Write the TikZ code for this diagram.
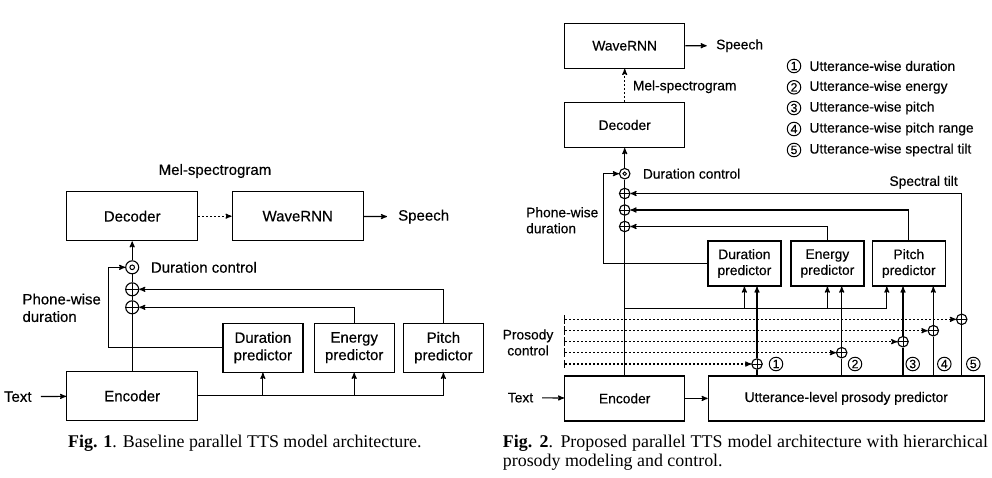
\documentclass[tikz,border=0pt]{standalone}
\usepackage{fontspec}
\setmainfont{Liberation Sans}[FakeBold=0.35]
\newfontfamily\capfont{Liberation Serif}
\usetikzlibrary{calc,arrows}

\begin{document}
\begin{tikzpicture}[x=1pt,y=-1pt]
 \tikzstyle{arrow} = [->,>=stealth',line width=1.15pt];
 \tikzstyle{line} = [line width=1.15pt];
 \tikzstyle{dotarrow} = [->,>=stealth',line width=1.15pt,dash pattern=on 2pt off 2pt];
 \tikzstyle{ctrl} = [|->,>=stealth',line width=1.15pt,dash pattern=on 2pt off 2pt];
 \tikzstyle{box} = [draw,line width=1.3pt,align=center,inner sep=0pt];
 \tikzstyle{boxA} = [box,font=\fontsize{15}{17.5}\selectfont];
 \tikzstyle{boxB} = [box,font=\fontsize{13.8}{16}\selectfont];
 \tikzstyle{bigA} = [boxA,minimum width=131pt,minimum height=49pt];
 \tikzstyle{smallA} = [boxA,minimum width=80pt,minimum height=49pt];
 \tikzstyle{bigB} = [boxB,minimum width=120pt,minimum height=45pt];
 \tikzstyle{smallB} = [boxB,minimum width=73pt,minimum height=45pt];
 \tikzstyle{lblA} = [inner sep=0pt,font=\fontsize{15}{17.5}\selectfont];
 \tikzstyle{lblB} = [inner sep=0pt,font=\fontsize{13.8}{16}\selectfont];
 \tikzstyle{op} = [circle,draw,line width=1.1pt,inner sep=0pt];
 \tikzstyle{oplus} = [op,path picture={\draw[line width=1pt]
   (path picture bounding box.north) -- (path picture bounding box.south)
   (path picture bounding box.west) -- (path picture bounding box.east);}];
 \tikzstyle{odotA} = [op,path picture={\draw[line width=1pt]
   (path picture bounding box.center) circle (2.3pt);}];
 \tikzstyle{odotB} = [op,path picture={\draw[line width=0.9pt]
   (path picture bounding box.center) circle (1.8pt);}];
 \tikzstyle{num} = [circle,draw,line width=1pt,inner sep=0pt,minimum size=13.5pt,
   font=\fontsize{12}{13}\selectfont];
 \tikzstyle{caption} = [inner sep=0pt,font=\capfont\fontsize{17.9}{19.5}\selectfont];

 \useasboundingbox (0,0) rectangle (992,477);

 % Fig. 1
 \node[bigA,name=dec1] at (132.2,216.2) {Decoder};
 \node[bigA,name=wav1] at (297.7,216.2) {WaveRNN};
 \node[bigA,name=enc1] at (132.2,395.9) {Encoder};
 \node[smallA,name=dur1] at (262.9,347.7) {Duration\\predictor};
 \node[smallA,name=eng1] at (354.2,347.7) {Energy\\predictor};
 \node[smallA,name=pit1] at (443.4,347.7) {Pitch\\predictor};
 \node[odotA,name=od1,minimum size=13pt] at (132.2,267.3) {};
 \node[oplus,name=pa1,minimum size=13pt] at (132.2,289.3) {};
 \node[oplus,name=pb1,minimum size=13pt] at (132.2,307.3) {};
 \node[lblA,name=mel1] at (215,171) {Mel-spectrogram};
 \node[lblA,name=sp1,anchor=west] at (398,216.7) {Speech};
 \node[lblA,name=txt1] at (17.8,396.7) {Text};
 \node[lblA,name=dc1,anchor=west] at (150.7,267.3) {Duration control};
 \node[lblA,name=pw1,anchor=west,align=left] at (22.3,307.8) {Phone-wise\\duration};

 \path (txt1) edge [arrow,shorten <=9pt] (enc1);
 \path (enc1) edge [line] (pb1);
 \path (pb1) edge [line] (pa1);
 \path (pa1) edge [line] (od1);
 \path (od1) edge [arrow] (dec1);
 \path (dec1) edge [dotarrow] (wav1);
 \path (wav1) edge [arrow,shorten >=11pt] (sp1);
 \draw[arrow] (enc1.east) -| (pit1.south);
 \draw[arrow] (dur1.south |- enc1.east) -- (dur1.south);
 \draw[arrow] (eng1.south |- enc1.east) -- (eng1.south);
 \draw[arrow] (dur1.west) -- ++(-114,0) |- (od1);
 \draw[arrow] (eng1.north) |- (pb1);
 \draw[arrow] (pit1.north) |- (pa1);

 % Fig. 2
 \node[bigB,name=wav2] at (624.7,45.8) {WaveRNN};
 \node[bigB,name=dec2] at (624.7,125) {Decoder};
 \node[bigB,name=enc2] at (624.7,398.4) {Encoder};
 \node[boxB,name=upp,minimum width=276pt,minimum height=45pt] at (846.3,398.4)
   {Utterance-level prosody predictor};
 \node[smallB,name=dur2] at (744.4,263.5) {Duration\\predictor};
 \node[smallB,name=eng2] at (827.4,263.5) {Energy\\predictor};
 \node[smallB,name=pit2] at (908.8,263.5) {Pitch\\predictor};
 \node[odotB,name=od2,minimum size=10.5pt] at (624.7,173.7) {};
 \node[oplus,name=pa2,minimum size=10.5pt] at (624.7,193.5) {};
 \node[oplus,name=pb2,minimum size=10.5pt] at (624.7,210) {};
 \node[oplus,name=pc2,minimum size=10.5pt] at (624.7,226.5) {};
 \node[oplus,name=q1,minimum size=10.5pt] at (757,364) {};
 \node[oplus,name=q2,minimum size=10.5pt] at (841.7,352.7) {};
 \node[oplus,name=q3,minimum size=10.5pt] at (903,341.7) {};
 \node[oplus,name=q4,minimum size=10.5pt] at (933.3,330.7) {};
 \node[oplus,name=q5,minimum size=10.5pt] at (961.7,319.3) {};
 \node[num,name=n1] at (776,364) {1};
 \node[num,name=n2] at (855,364) {2};
 \node[num,name=n3] at (912.7,364) {3};
 \node[num,name=n4] at (944.3,364) {4};
 \node[num,name=n5] at (973.3,364) {5};
 \coordinate (c1) at (564.3,364);
 \coordinate (c2) at (564.3,352.7);
 \coordinate (c3) at (564.3,341.7);
 \coordinate (c4) at (564.3,330.7);
 \coordinate (c5) at (564.3,319.3);
 \coordinate (fb) at (624.7,308.3);
 \node[lblB,name=sp2,anchor=west] at (716,45.7) {Speech};
 \node[lblB,name=mel2,anchor=west] at (632.7,86.7) {Mel-spectrogram};
 \node[lblB,name=dc2,anchor=west] at (642.7,173.7) {Duration control};
 \node[lblB,name=st2] at (923.6,182.3) {Spectral tilt};
 \node[lblB,name=pw2,anchor=west,align=left] at (526,220.3) {Phone-wise\\duration};
 \node[lblB,name=pc,align=center] at (528,342.5) {Prosody\\control};
 \node[lblB,name=txt2] at (520.5,397.7) {Text};

 % legend
 \node[num,name=l1] at (794,66) {1};
 \node[num,name=l2] at (794,87.3) {2};
 \node[num,name=l3] at (794,108) {3};
 \node[num,name=l4] at (794,129) {4};
 \node[num,name=l5] at (794,150) {5};
 \node[lblB,anchor=west] at (809.3,66) {Utterance-wise duration};
 \node[lblB,anchor=west] at (809.3,87.3) {Utterance-wise energy};
 \node[lblB,anchor=west] at (809.3,108) {Utterance-wise pitch};
 \node[lblB,anchor=west] at (809.3,129) {Utterance-wise pitch range};
 \node[lblB,anchor=west] at (809.3,150) {Utterance-wise spectral tilt};

 \path (txt2) edge [arrow,shorten <=8.7pt] (enc2);
 \path (enc2) edge [arrow] (upp);
 \path (enc2) edge [line] (pc2);
 \path (pc2) edge [line] (pb2);
 \path (pb2) edge [line] (pa2);
 \path (pa2) edge [line] (od2);
 \path (od2) edge [arrow] (dec2);
 \path (dec2) edge [dotarrow] (wav2);
 \path (wav2) edge [arrow,shorten >=9.3pt] (sp2);
 \draw[arrow] (fb) -| ([xshift=-22pt]pit2.south);
 \draw[arrow] (dur2.south |- fb) -- (dur2.south);
 \draw[arrow] (eng2.south |- fb) -- (eng2.south);
 \draw[arrow] (dur2.west) -- ++(-103.7,0) |- (od2);
 \draw[arrow] (eng2.north) |- (pc2);
 \draw[arrow] (pit2.north) |- (pb2);
 \path (c1) edge [ctrl] (q1);
 \path (c2) edge [ctrl] (q2);
 \path (c3) edge [ctrl] (q3);
 \path (c4) edge [ctrl] (q4);
 \path (c5) edge [ctrl] (q5);
 \draw[line] (upp.north -| q1) -- (q1);
 \draw[line] (upp.north -| q2) -- (q2);
 \draw[line] (upp.north -| q3) -- (q3);
 \draw[line] (upp.north -| q4) -- (q4);
 \draw[line] (upp.north -| q5) -- (q5);
 \draw[arrow] (q1) -- (q1 |- dur2.south);
 \draw[arrow] (q2) -- (q2 |- eng2.south);
 \draw[arrow] (q3) -- (q3 |- pit2.south);
 \draw[arrow] (q4) -- (q4 |- pit2.south);
 \draw[arrow] (q5) |- (pa2);

 % captions
 \node[caption,anchor=base west] at (68,447.6)
   {\textbf{Fig. 1}. Baseline parallel TTS model architecture.};
 \node[caption,anchor=north west,text width=485pt,align=justify] at (502.7,434.5)
   {\textbf{Fig. 2}. Proposed parallel TTS model architecture with hierarchical prosody modeling and control.};
\end{tikzpicture}
\end{document}
